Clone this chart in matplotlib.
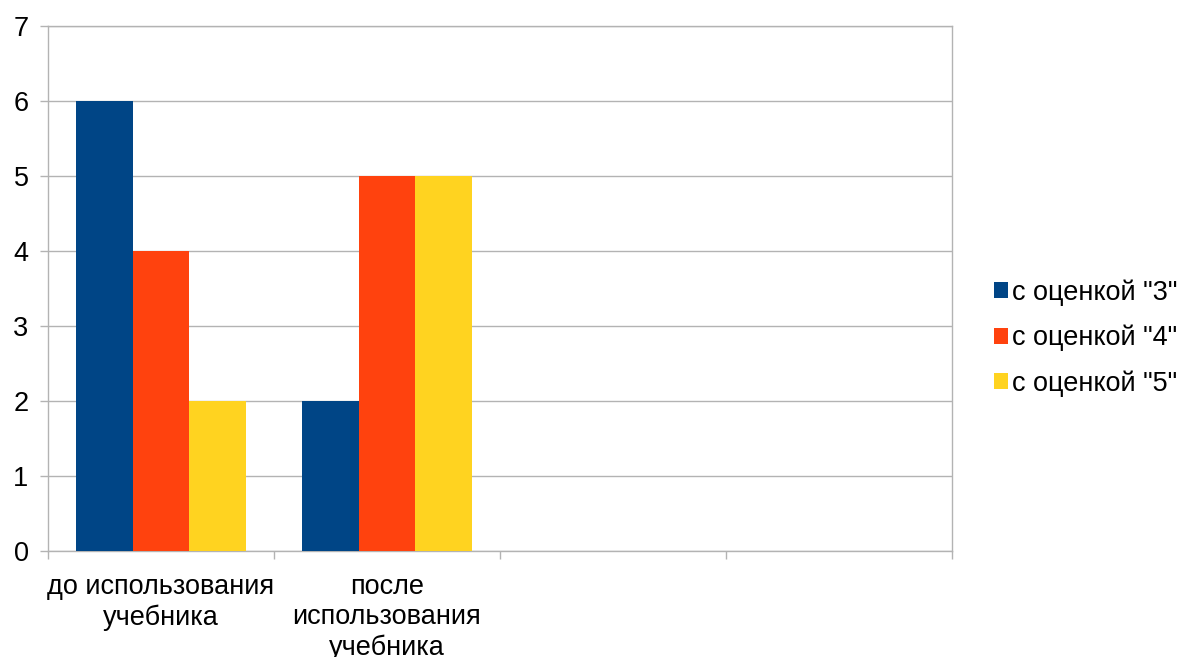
import matplotlib.pyplot as plt
import numpy as np
from matplotlib.patches import Patch

plt.rcParams['font.family'] = ['Liberation Sans', 'DejaVu Sans']

# Data
categories = ['до использования\nучебника', 'после\nиспользования\nучебника', '', '']
series_names = ['с оценкой "3"', 'с оценкой "4"', 'с оценкой "5"']
grade3 = [6, 2, 0, 0]
grade4 = [4, 5, 0, 0]
grade5 = [2, 5, 0, 0]
colors = ['#004586', '#ff420e', '#ffd320']

FS = 19.5

fig = plt.figure(figsize=(11.78, 6.57), dpi=100)
ax = fig.add_axes([48/1178, 106/657, 904/1178, 525/657])

x = np.arange(len(categories))
width = 0.25
for i, (vals, c) in enumerate(zip([grade3, grade4, grade5], colors)):
    ax.bar(x + (i - 1) * width, vals, width, color=c, linewidth=0, zorder=3)

ax.set_xlim(-0.5, len(categories) - 0.5)
ax.set_ylim(0, 7)
ax.set_yticks(range(0, 8))
ax.grid(axis='y', color='#b3b3b3', linewidth=1, zorder=0)

# category labels at centers, tick marks at boundaries
ax.set_xticks(x)
ax.set_xticklabels(categories, fontsize=FS, linespacing=1.21)
ax.set_xticks(np.arange(-0.5, len(categories)), minor=True)
ax.tick_params(axis='x', which='major', length=0, pad=16.5)
ax.tick_params(axis='x', which='minor', length=6, width=1, color='#b3b3b3', direction='out')
ax.tick_params(axis='y', length=6, width=1, color='#b3b3b3', direction='out', pad=8, labelsize=FS)

for s in ax.spines.values():
    s.set_color('#b3b3b3')
    s.set_linewidth(1)

handles = [Patch(facecolor=c, edgecolor='none') for c in colors]
fig.legend(handles, series_names, loc='center left',
           bbox_to_anchor=(994/1178, (657-338)/657), frameon=False,
           fontsize=FS, handlelength=0.52, handleheight=0.52,
           handletextpad=0.15, labelspacing=0.7, borderpad=0, borderaxespad=0)

fig.savefig('out.png', dpi=100)
